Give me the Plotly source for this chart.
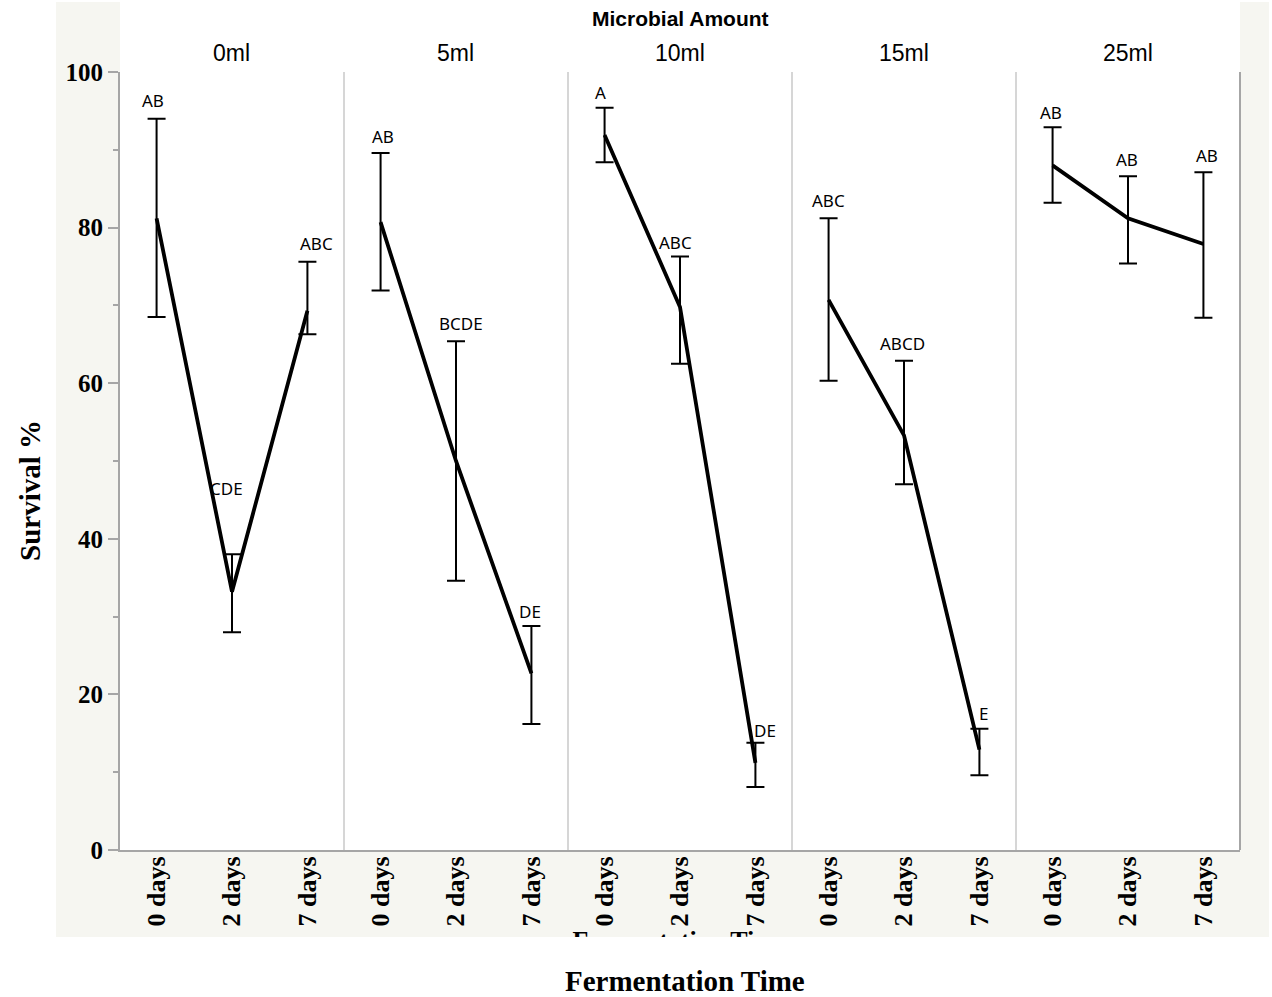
import plotly.graph_objects as go

# ---- data -------------------------------------------------------------
amounts = ["0ml", "5ml", "10ml", "15ml", "25ml"]
days = ["0 days", "2 days", "7 days"]

# survival % per (amount, day), listed amount by amount
survival_mean = [81.2, 33.2, 69.3,
                 80.7, 50.0, 22.7,
                 91.9, 69.8, 11.2,
                 70.7, 53.3, 12.9,
                 88.0, 81.2, 77.9]
survival_upper = [94.0, 38.0, 75.6,
                  89.6, 65.4, 28.8,
                  95.4, 76.3, 13.8,
                  81.2, 62.9, 15.6,
                  92.9, 86.6, 87.1]
survival_lower = [68.5, 28.0, 66.3,
                  71.9, 34.6, 16.2,
                  88.4, 62.5, 8.1,
                  60.3, 47.0, 9.6,
                  83.2, 75.4, 68.4]
letters = ["AB", "CDE", "ABC",
           "AB", "BCDE", "DE",
           "A", "ABC", "DE",
           "ABC", "ABCD", "E",
           "AB", "AB", "AB"]

# ---- styling / layout ------------------------------------------------
W, H = 1272, 997
PLOT_L, PLOT_R, PLOT_T, PLOT_B = 120, 1240, 72, 850
BEIGE = "#f6f6f1"
AXIS_GRAY = "#a6a6a6"
DIVIDER_GRAY = "#d6d6d6"
SERIF = "Liberation Serif"
SANS = "Liberation Sans"
LETTER_FONT = "Noto Sans"

# pixel offsets (dx right, dy down) of each letter from the top of its error bar
label_offsets = [(-4, -18), (-6, -66), (9, -18),
                 (2, -16), (5, -18), (-1, -14),
                 (-4, -15), (-5, -14), (10, -12),
                 (0, -18), (-2, -17), (4, -15),
                 (-2, -15), (-1, -17), (4, -17)]


def fx(px):
    return px / W


def fy(py):
    return 1 - py / H


panel_w = (PLOT_R - PLOT_L) / len(amounts)
fig = go.Figure()
annotations = []
layout_axes = {}

for i, amt in enumerate(amounts):
    xname = "x" if i == 0 else f"x{i + 1}"
    axkey = "xaxis" if i == 0 else f"xaxis{i + 1}"
    sl = slice(3 * i, 3 * i + 3)
    m = survival_mean[sl]
    up = survival_upper[sl]
    lo = survival_lower[sl]
    fig.add_trace(go.Scatter(
        x=days, y=m, mode="lines",
        line=dict(color="black", width=3.8),
        error_y=dict(type="data", symmetric=False,
                     array=[u - v for u, v in zip(up, m)],
                     arrayminus=[v - l for v, l in zip(m, lo)],
                     color="black", thickness=2, width=9),
        xaxis=xname, yaxis="y", showlegend=False, hoverinfo="skip",
    ))
    layout_axes[axkey] = dict(
        domain=[fx(PLOT_L + i * panel_w), fx(PLOT_L + (i + 1) * panel_w)],
        type="category", categoryorder="array", categoryarray=days,
        range=[-0.485, 2.485], anchor="y", automargin=False,
        tickangle=-90, ticks="", ticklabelstandoff=-6,
        showgrid=False, zeroline=False,
        showline=True, linecolor=AXIS_GRAY, linewidth=2,
        tickfont=dict(family=SERIF, size=26, color="black", weight="bold"),
        fixedrange=True,
    )
    for j, d in enumerate(days):
        dx, dy = label_offsets[3 * i + j]
        annotations.append(dict(
            x=d, y=up[j], xref=xname, yref="y", text=letters[3 * i + j],
            showarrow=False, xanchor="center", yanchor="middle",
            xshift=dx, yshift=-dy,
            font=dict(family=LETTER_FONT, size=17, color="black"),
        ))
    # panel header
    annotations.append(dict(
        x=fx(PLOT_L + (i + 0.5) * panel_w), y=fy(53), xref="paper", yref="paper",
        text=amt, showarrow=False, xanchor="center", yanchor="middle",
        font=dict(family=SANS, size=23, color="black"),
    ))

annotations += [
    dict(x=fx((PLOT_L + PLOT_R) / 2), y=fy(18), xref="paper", yref="paper",
         text="Microbial Amount", showarrow=False, xanchor="center", yanchor="middle",
         font=dict(family=SANS, size=21, color="black", weight="bold")),
    dict(x=fx(30), y=fy(491), xref="paper", yref="paper", text="Survival %",
         textangle=-90, showarrow=False, xanchor="center", yanchor="middle",
         font=dict(family=SERIF, size=29, color="black", weight="bold")),
    dict(x=fx(685), y=fy(981), xref="paper", yref="paper", text="Fermentation Time",
         showarrow=False, xanchor="center", yanchor="middle",
         font=dict(family=SERIF, size=29, color="black", weight="bold")),
]

# the original axis title, cut off by the bottom edge of the frame
fig.add_trace(go.Scatter(
    x=[0.5], y=[-0.55], mode="text", text=["Fermentation Time"],
    textfont=dict(family=SERIF, size=26, color="black", weight="bold"),
    cliponaxis=True, xaxis="x6", yaxis="y6", showlegend=False, hoverinfo="skip",
))

shapes = [
    dict(type="rect", xref="paper", yref="paper", layer="below",
         x0=fx(56), x1=fx(1269), y0=fy(937), y1=fy(2),
         fillcolor=BEIGE, line=dict(width=0)),
    dict(type="rect", xref="paper", yref="paper", layer="below",
         x0=fx(PLOT_L), x1=fx(PLOT_R), y0=fy(PLOT_B), y1=1,
         fillcolor="white", line=dict(width=0)),
]
for i in range(1, len(amounts)):
    xp = fx(PLOT_L + i * panel_w)
    shapes.append(dict(type="line", xref="paper", yref="paper", layer="below",
                       x0=xp, x1=xp, y0=fy(PLOT_B), y1=fy(PLOT_T),
                       line=dict(color=DIVIDER_GRAY, width=2)))
shapes.append(dict(type="line", xref="paper", yref="paper",
                   x0=fx(PLOT_R), x1=fx(PLOT_R), y0=fy(PLOT_B), y1=fy(PLOT_T),
                   line=dict(color=AXIS_GRAY, width=2)))

fig.update_layout(
    template="none",
    width=W, height=H,
    margin=dict(l=0, r=0, t=0, b=0, autoexpand=False),
    paper_bgcolor="white", plot_bgcolor="rgba(0,0,0,0)",
    showlegend=False,
    yaxis=dict(
        domain=[fy(PLOT_B), fy(PLOT_T)], range=[0, 100], anchor="x",
        automargin=False,
        tickmode="array", tickvals=[0, 20, 40, 60, 80, 100],
        ticks="outside", ticklen=10, tickwidth=2, tickcolor=AXIS_GRAY,
        minor=dict(tickmode="array", tickvals=[10, 30, 50, 70, 90],
                   ticks="outside", ticklen=5, tickwidth=2, tickcolor=AXIS_GRAY),
        showline=True, linecolor=AXIS_GRAY, linewidth=2,
        showgrid=False, zeroline=False,
        tickfont=dict(family=SERIF, size=25, color="black", weight="bold"),
        fixedrange=True,
    ),
    xaxis6=dict(domain=[fx(PLOT_L), fx(PLOT_R)], range=[0, 1], visible=False,
                anchor="y6", fixedrange=True, automargin=False),
    yaxis6=dict(domain=[fy(937), fy(927)], range=[0, 1], visible=False,
                anchor="x6", fixedrange=True, automargin=False),
    annotations=annotations,
    shapes=shapes,
    **layout_axes,
)

fig.write_html("out.html")
